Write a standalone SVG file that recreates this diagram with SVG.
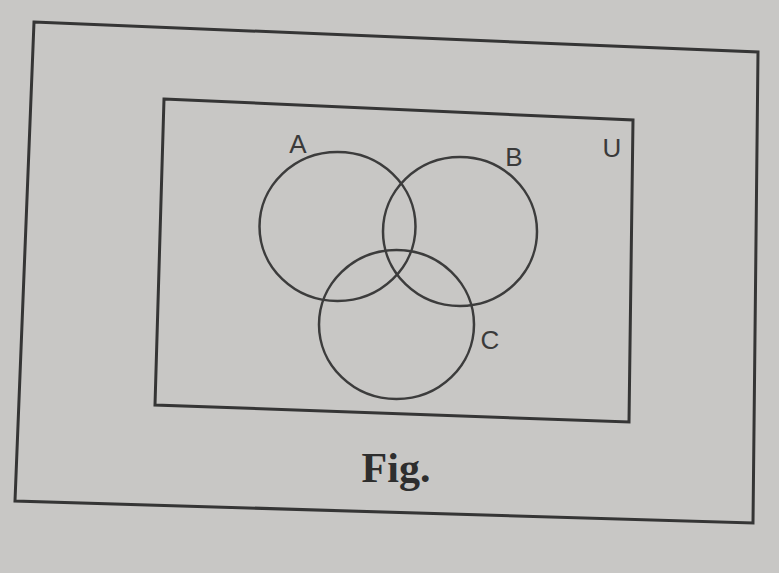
<svg xmlns="http://www.w3.org/2000/svg" width="779" height="573" viewBox="0 0 779 573">
<style>
.frame{fill:none;stroke:#353535;stroke-width:3;stroke-linejoin:miter}
.set{fill:none;stroke:#3c3c3c;stroke-width:2.5}
.lbl{font-family:"Liberation Sans",Arial,sans-serif;font-size:26px;fill:#3a3a3a}
.cap{font-family:"Liberation Serif","Times New Roman",serif;font-size:42px;font-weight:bold;fill:#2e2e2e}
</style>
<rect x="0" y="0" width="779" height="573" fill="#c8c7c5"/>
<g id="outer-frame">
<polygon class="frame" points="34,22 758,52 753,523 15,501"/>
</g>
<g id="universe">
<polygon class="frame" points="164,99 633,120 629,422 155,405"/>
<text class="lbl" x="612" y="157" text-anchor="middle">U</text>
</g>
<g id="set-A">
<ellipse class="set" cx="337.5" cy="226.5" rx="78" ry="74.5"/>
<text class="lbl" x="298" y="153" text-anchor="middle">A</text>
</g>
<g id="set-B">
<ellipse class="set" cx="460" cy="231.5" rx="77" ry="74.5"/>
<text class="lbl" x="514" y="166" text-anchor="middle">B</text>
</g>
<g id="set-C">
<ellipse class="set" cx="396.5" cy="324.5" rx="77.5" ry="74.5"/>
<text class="lbl" x="490" y="349" text-anchor="middle">C</text>
</g>
<g id="connectors"></g>
<text class="cap" x="396" y="482" text-anchor="middle">Fig.</text>
</svg>
